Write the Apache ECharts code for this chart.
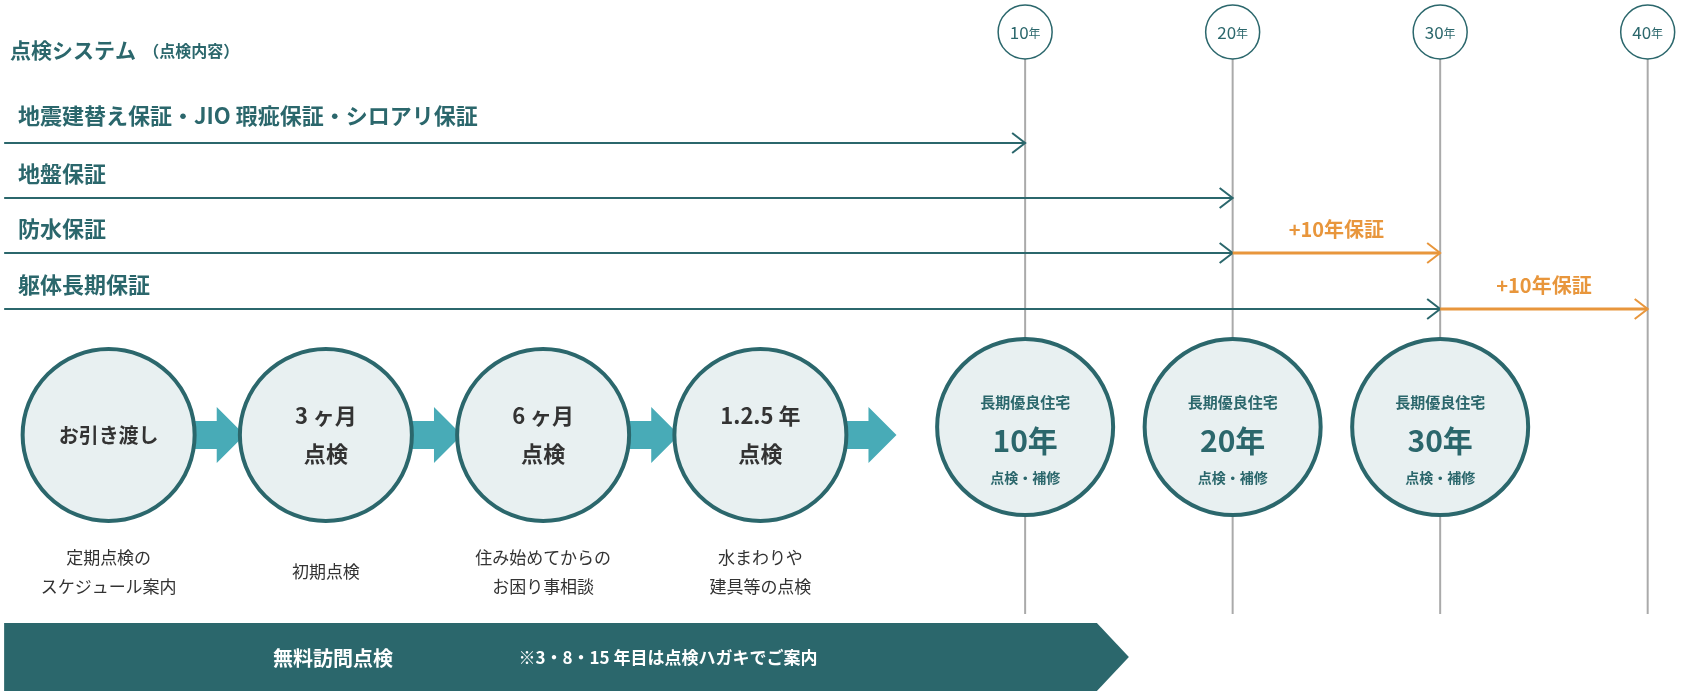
<!DOCTYPE html><html><head><meta charset="utf-8">
<script src="https://cdn.jsdelivr.net/npm/echarts@6/dist/echarts.min.js"></script>
<style>html,body{margin:0;background:#fff}#c{width:1684px;height:692px}</style></head><body><div id="c"></div>
<script>
const yearMarks=[10,20,30,40];
const warrantyNames=['地震建替え保証・JIO 瑕疵保証・シロアリ保証','地盤保証','防水保証','躯体長期保証'];
const warrantyEnd=[10,20,20,30];
const extendEnd=[0,0,30,40];
const extendLabel='+10年保証';
const steps=['お引き渡し','3 ヶ月\n点検','6 ヶ月\n点検','1.2.5 年\n点検'];
const stepCaptions=['定期点検の\nスケジュール案内','初期点検','住み始めてからの\nお困り事相談','水まわりや\n建具等の点検'];
const inspections=[10,20,30];
const bannerEnd=15;
const bannerText='無料訪問点検', bannerNote='※3・8・15 年目は点検ハガキでご案内';
const START=-39.2;
const TEAL='#2b676c',ORANGE='#e8963c',FILL='#e8f0f1',CHEV='#48abb7',FONT='"Noto Sans CJK JP"';
const rowLabelY=[116,174,229,285], rowArrowY=[143,198,253,309];
function head(x,y,c){return {type:'polyline',shape:{points:[[x-13,y-10],[x,y],[x-13,y+10]]},style:{stroke:c,lineWidth:2,fill:null}};}
const chart=echarts.init(document.getElementById('c'));
chart.setOption({
 animation:false,
 grid:[{left:0,right:0,top:0,bottom:0},{left:-23,width:892,top:0,bottom:0}],
 xAxis:[{type:'value',min:-39.4,max:41.75,show:false},{type:'category',data:steps,gridIndex:1,show:false}],
 yAxis:[{type:'value',min:0,max:692,inverse:true,show:false},{type:'value',min:0,max:692,inverse:true,show:false,gridIndex:1}],
 graphic:[{type:'text',left:10,top:40,style:{rich:{a:{fontSize:21,fontWeight:'bold',fill:TEAL,fontFamily:FONT},b:{fontSize:16,fontWeight:'bold',fill:TEAL,fontFamily:FONT}},text:'{a|点検システム}{b|  （点検内容）}'}}],
 series:[
 {type:'custom',coordinateSystem:'cartesian2d',data:yearMarks.map(v=>[v]),z:1,renderItem(p,api){
   const x=api.coord([api.value(0),0])[0];
   return {type:'group',children:[
    {type:'line',shape:{x1:x,y1:59,x2:x,y2:614},style:{stroke:'#aaa',lineWidth:2}},
    {type:'circle',shape:{cx:x,cy:32,r:27},style:{fill:'#fff',stroke:TEAL,lineWidth:1.5}},
    {type:'text',style:{x:x,y:33,align:'center',verticalAlign:'middle',rich:{n:{fontSize:17,fill:TEAL,fontFamily:FONT},y:{fontSize:12,fill:TEAL,fontFamily:FONT}},text:'{n|'+api.value(0)+'}{y|年}'}}]};}},
 {type:'custom',data:warrantyEnd.map((e,i)=>[i,e,extendEnd[i]]),z:3,renderItem(p,api){
   const i=api.value(0),y=rowArrowY[i];
   const xs=api.coord([START,0])[0],xe=api.coord([api.value(1),0])[0];
   const ch=[{type:'text',style:{x:18,y:rowLabelY[i],verticalAlign:'middle',text:warrantyNames[i],fontSize:22,fontWeight:'bold',fill:TEAL,fontFamily:FONT}},
    {type:'line',shape:{x1:xs,y1:y,x2:xe,y2:y},style:{stroke:TEAL,lineWidth:2}},head(xe,y,TEAL)];
   if(api.value(2)){const xo=api.coord([api.value(2),0])[0];
    ch.push({type:'line',shape:{x1:xe,y1:y,x2:xo,y2:y},style:{stroke:ORANGE,lineWidth:3}},head(xo,y,ORANGE),
    {type:'text',style:{x:(xe+xo)/2,y:rowLabelY[i],align:'center',verticalAlign:'middle',text:extendLabel,fontSize:20,fontWeight:'bold',fill:ORANGE,fontFamily:FONT}});}
   return {type:'group',children:ch};}},
 {type:'custom',data:inspections.map(v=>[v]),z:4,renderItem(p,api){
   const x=api.coord([api.value(0),0])[0];
   return {type:'group',children:[
    {type:'circle',shape:{cx:x,cy:427,r:88},style:{fill:FILL,stroke:TEAL,lineWidth:4}},
    {type:'text',style:{x,y:402,align:'center',verticalAlign:'middle',text:'長期優良住宅',fontSize:15,fontWeight:'bold',fill:TEAL,fontFamily:FONT}},
    {type:'text',style:{x,y:441,align:'center',verticalAlign:'middle',text:api.value(0)+'年',fontSize:30,fontWeight:'bold',fill:TEAL,fontFamily:FONT}},
    {type:'text',style:{x,y:478,align:'center',verticalAlign:'middle',text:'点検・補修',fontSize:14,fontWeight:'bold',fill:TEAL,fontFamily:FONT}}]};}},
 {type:'custom',data:[[START,bannerEnd]],z:2,renderItem(p,api){
   const a=api.coord([api.value(0),0])[0],b=api.coord([api.value(1),0])[0];
   return {type:'group',children:[
    {type:'polygon',shape:{points:[[a,623],[b-32,623],[b,657],[b-32,691],[a,691]]},style:{fill:TEAL}},
    {type:'text',style:{x:333,y:658,align:'center',verticalAlign:'middle',text:bannerText,fontSize:20,fontWeight:'bold',fill:'#fff',fontFamily:FONT}},
    {type:'text',style:{x:668,y:658,align:'center',verticalAlign:'middle',text:bannerNote,fontSize:17,fontWeight:'bold',fill:'#fff',fontFamily:FONT}}]};}},
 {type:'custom',xAxisIndex:1,yAxisIndex:1,data:steps.map((s,i)=>[i]),z:4,renderItem(p,api){
   const i=api.value(0),c=api.coord([i,0])[0],bw=api.size([1,0])[0],cx=c+bw*0.47;
   const two=steps[i].indexOf('\n')>=0;
   return {type:'group',children:[
    {type:'polygon',shape:{points:[[cx-34,421],[cx+6,421],[cx+6,407],[cx+34,435],[cx+6,463],[cx+6,449],[cx-34,449]]},style:{fill:CHEV}},
    {type:'circle',shape:{cx:c,cy:435,r:86},style:{fill:FILL,stroke:TEAL,lineWidth:4}},
    {type:'text',style:{x:c,y:435,align:'center',verticalAlign:'middle',text:steps[i],fontSize:two?22:20,lineHeight:38,fontWeight:'bold',fill:'#333',fontFamily:FONT}},
    {type:'text',style:{x:c,y:572,align:'center',verticalAlign:'middle',text:stepCaptions[i],fontSize:17,lineHeight:29,fill:'#333',fontFamily:FONT}}]};}}
 ]});
</script></body></html>
